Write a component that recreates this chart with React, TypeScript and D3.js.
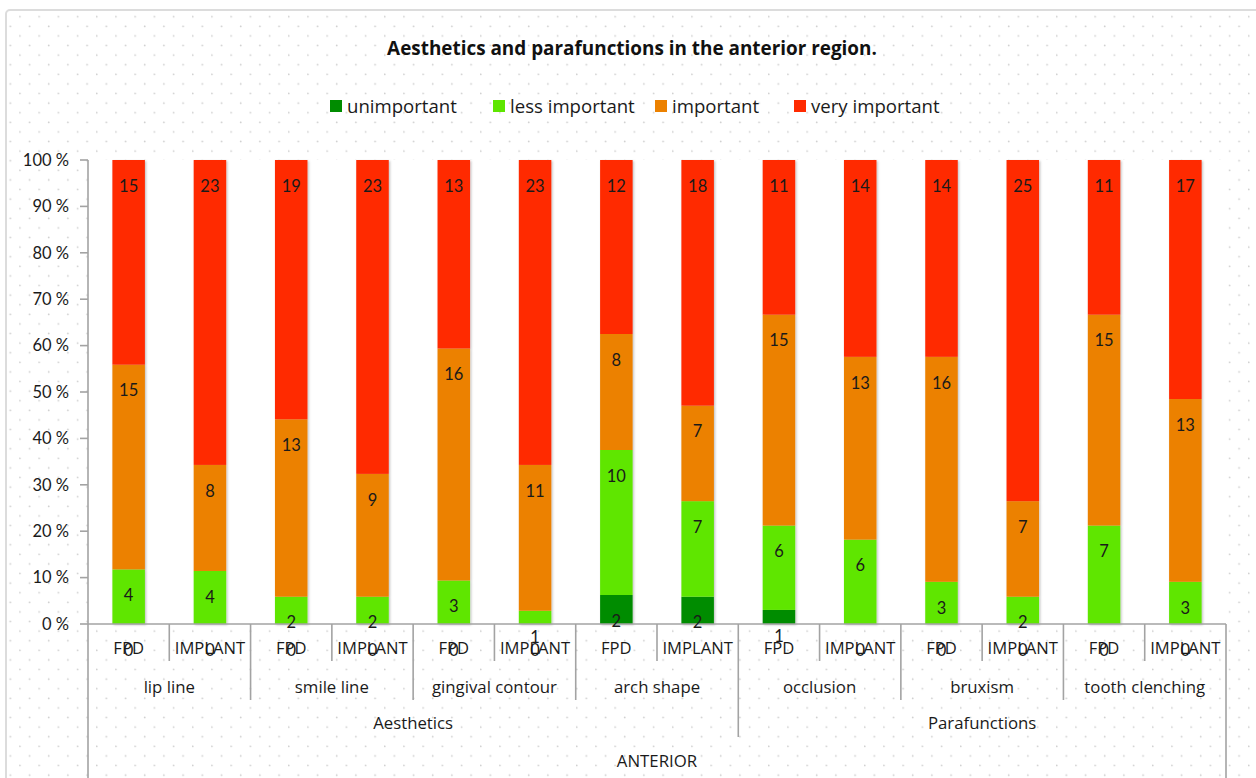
import React from "react";
import * as d3 from "d3";

const categories = ["lip line", "smile line", "gingival contour", "arch shape", "occlusion", "bruxism", "tooth clenching"];
const groups = ["Aesthetics", "Parafunctions"];
const groupSizes = [4, 3];
const topLabel = "ANTERIOR";
const subLabels = ["FPD", "IMPLANT"];
const seriesNames = ["unimportant", "less important", "important", "very important"];
const seriesColors = ["#008c00", "#5ee600", "#ec8100", "#ff2a00"];

const unimportant = [0, 0, 0, 0, 0, 0, 2, 2, 1, 0, 0, 0, 0, 0];
const lessImportant = [4, 4, 2, 2, 3, 1, 10, 7, 6, 6, 3, 2, 7, 3];
const important = [15, 8, 13, 9, 16, 11, 8, 7, 15, 13, 16, 7, 15, 13];
const veryImportant = [15, 23, 19, 23, 13, 23, 12, 18, 11, 14, 14, 25, 11, 17];
const yTicks = [0, 0.1, 0.2, 0.3, 0.4, 0.5, 0.6, 0.7, 0.8, 0.9, 1];

const FONT = "'Open Sans', Lato, sans-serif";
const LATO = "Lato, 'Open Sans', sans-serif";

export default function App() {
  const W = 1256, H = 778;
  const left = 88, right = 1226, top = 160, bottom = 624;
  const series = [unimportant, lessImportant, important, veryImportant];
  const n = unimportant.length;
  const idx = d3.range(n);
  const x = d3.scaleBand<number>().domain(idx).range([left, right]).padding(0);
  const y = d3.scaleLinear().domain([0, 1]).range([bottom, top]);
  const step = x.step();
  const barW = step * 0.4;
  const totals = idx.map((i) => d3.sum(series, (s) => s[i]));
  const rows = idx.map((i) => {
    const o: any = { i };
    seriesNames.forEach((k, j) => (o[k] = series[j][i] / totals[i]));
    return o;
  });
  const stacked = d3.stack<any>().keys(seriesNames)(rows);
  const axisColor = "#a3a3a3";
  const txt = "#1a1a1a";

  const catStarts = categories.map((_, c) => c * 2);
  let acc = 0;
  const groupStarts = groupSizes.map((g) => {
    const s = acc * 2;
    acc += g;
    return s;
  });

  const legendX = [330, 493, 655, 794];

  return (
    <div style={{ position: "absolute", left: 0, top: 0 }}>
      <svg width={W} height={H} style={{ display: "block" }} fontFamily={FONT}>
        <defs>
          <pattern id="dots" patternUnits="userSpaceOnUse" width={19.2} height={19.2}>
            <circle cx={0.7} cy={16.7} r={0.9} fill="#cdcdcd" />
            <circle cx={10.3} cy={7.1} r={0.9} fill="#cdcdcd" />
          </pattern>
          <filter id="shadow" x="-20%" y="-5%" width="150%" height="115%">
            <feDropShadow dx={1.2} dy={1} stdDeviation={1} floodColor="#000" floodOpacity={0.25} />
          </filter>
        </defs>
        <rect x={0} y={0} width={W} height={H} fill="#fff" />
        <rect x={6} y={10} width={1300} height={820} rx={4} fill="url(#dots)" stroke="#dcdcdc" strokeWidth={2} />
        <rect x={left} y={top} width={right - left} height={bottom - top} fill="#fff" />

        <text x={632} y={55} textAnchor="middle" fontSize={18.9} fontWeight="bold" fill="#111">
          Aesthetics and parafunctions in the anterior region.
        </text>

        {seriesNames.map((s, j) => (
          <g key={s}>
            <rect x={legendX[j]} y={100} width={12} height={12} fill={seriesColors[j]} />
            <text x={legendX[j] + 17} y={113} fontSize={18.6} fill={txt}>
              {s}
            </text>
          </g>
        ))}

        <g filter="url(#shadow)">
          {stacked.map((layer, j) =>
            layer.map((d, i) => (
              <rect
                key={`${j}-${i}`}
                x={(x(i) as number) + (step - barW) / 2}
                y={y(d[1])}
                width={barW}
                height={Math.max(0, y(d[0]) - y(d[1]))}
                fill={seriesColors[j]}
              />
            ))
          )}
        </g>

        <line x1={left} x2={left} y1={top} y2={H} stroke={axisColor} strokeWidth={1.6} />
        {yTicks.map((t) => (
          <g key={t}>
            <line x1={left - 8} x2={left} y1={y(t)} y2={y(t)} stroke={axisColor} strokeWidth={1.6} />
            <text x={69} y={y(t)} dy="0.35em" textAnchor="end" fontSize={16.5} fontFamily={LATO} fill={txt}>
              {d3.format(".0f")(t * 100) + " %"}
            </text>
          </g>
        ))}

        <line x1={left} x2={right} y1={bottom} y2={bottom} stroke={axisColor} strokeWidth={1.6} />
        <line x1={right} x2={right} y1={bottom} y2={H} stroke={axisColor} strokeWidth={1.6} />
        {idx.slice(1).map((i) => {
          const xx = x(i) as number;
          let y2 = 661;
          if (i % 2 === 0) y2 = 700;
          if (groupStarts.includes(i)) y2 = 737;
          return <line key={i} x1={xx} x2={xx} y1={bottom} y2={y2} stroke={axisColor} strokeWidth={1.6} />;
        })}
        {idx.map((i) => (
          <text key={i} x={(x(i) as number) + step / 2} y={648} dy="0.35em" textAnchor="middle" fontSize={16.6} fill={txt}>
            {subLabels[i % 2]}
          </text>
        ))}
        {categories.map((c, k) => (
          <text key={c} x={(x(catStarts[k]) as number) + step} y={687} dy="0.35em" textAnchor="middle" fontSize={16.8} fill={txt}>
            {c}
          </text>
        ))}
        {groups.map((g, k) => {
          const s = groupStarts[k];
          const e = s + groupSizes[k] * 2;
          const cx = ((x(s) as number) + (e >= n ? right : (x(e) as number))) / 2;
          return (
            <text key={g} x={cx} y={723} dy="0.35em" textAnchor="middle" fontSize={16.8} fill={txt}>
              {g}
            </text>
          );
        })}
        <text x={(left + right) / 2} y={761} dy="0.35em" textAnchor="middle" fontSize={16.8} fill={txt}>
          {topLabel}
        </text>

        {stacked.map((layer, j) =>
          layer.map((d, i) => (
            <text
              key={`l${j}-${i}`}
              x={(x(i) as number) + step / 2}
              y={y(d[1]) + 26}
              dy="0.35em"
              textAnchor="middle"
              fontSize={16.5}
              fontFamily={LATO}
              fill={txt}
            >
              {series[j][i]}
            </text>
          ))
        )}
      </svg>
    </div>
  );
}
